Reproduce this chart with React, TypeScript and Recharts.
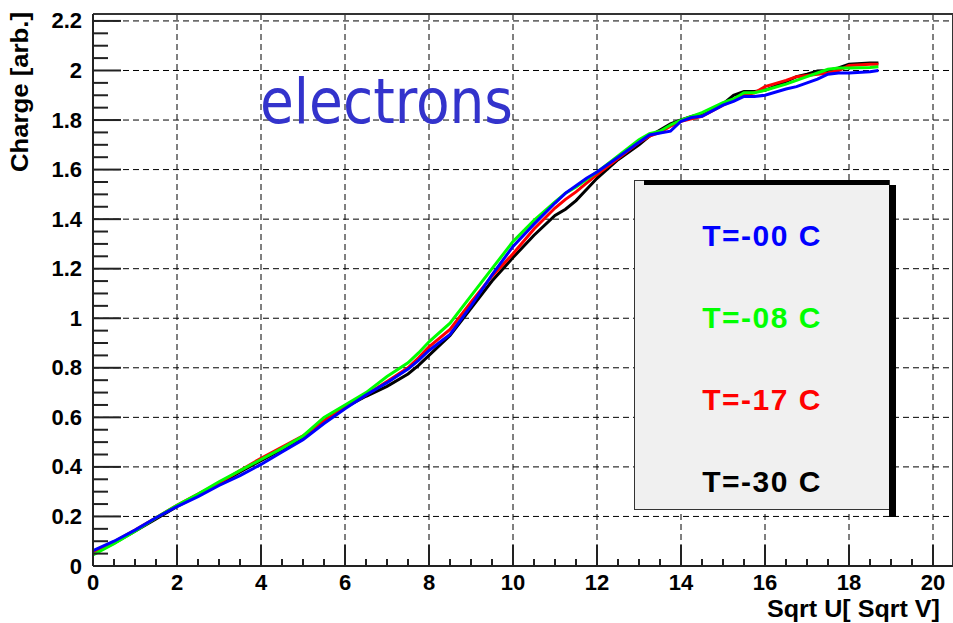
import { CartesianGrid, Legend, Line, LineChart, ReferenceLine, XAxis, YAxis } from 'recharts';

// sqrt of the bias voltage, in sqrt(V)
const sqrtU = [
  0, 0.5, 1, 1.5, 2, 2.5, 3, 3.5, 4, 4.5, 5, 5.5, 6, 6.5, 7, 7.5, 7.75, 8, 8.5, 9, 9.5, 10, 10.5, 11, 11.25, 11.5,
  11.75, 12, 12.5, 13, 13.25, 13.5, 13.75, 14, 14.25, 14.5, 15, 15.25, 15.5, 15.75, 16, 16.5, 16.75, 17, 17.25, 17.5,
  17.75, 18, 18.5, 18.7
];

// collected charge per temperature
const chargeT00 = [
  0.062, 0.1, 0.145, 0.195, 0.24, 0.28, 0.325, 0.365, 0.41, 0.46, 0.51, 0.575, 0.635, 0.69, 0.74, 0.795, 0.83, 0.87,
  0.935, 1.05, 1.175, 1.29, 1.38, 1.465, 1.505, 1.535, 1.565, 1.59, 1.65, 1.71, 1.74, 1.748, 1.755, 1.795, 1.81, 1.815,
  1.86, 1.875, 1.895, 1.895, 1.9, 1.925, 1.935, 1.95, 1.965, 1.985, 1.99, 1.99, 1.995, 2.0
];
const chargeT08 = [
  0.045, 0.09, 0.14, 0.195, 0.245, 0.29, 0.34, 0.385, 0.43, 0.475, 0.525, 0.6, 0.65, 0.7, 0.765, 0.82, 0.86, 0.905,
  0.98, 1.09, 1.2, 1.31, 1.395, 1.47, 1.505, 1.53, 1.56, 1.59, 1.655, 1.72, 1.745, 1.755, 1.78, 1.8, 1.815, 1.83, 1.87,
  1.885, 1.91, 1.91, 1.92, 1.945, 1.96, 1.975, 1.99, 2.005, 2.01, 2.01, 2.012, 2.015
];
const chargeT17 = [
  0.055, 0.098, 0.145, 0.195, 0.245, 0.29, 0.335, 0.385, 0.435, 0.48, 0.525, 0.585, 0.64, 0.69, 0.745, 0.8, 0.84,
  0.885, 0.955, 1.065, 1.17, 1.26, 1.36, 1.445, 1.48, 1.51, 1.545, 1.58, 1.645, 1.71, 1.735, 1.75, 1.775, 1.795, 1.805,
  1.815, 1.86, 1.88, 1.9, 1.91, 1.935, 1.96, 1.975, 1.98, 1.985, 1.99, 2.0, 2.02, 2.025, 2.025
];
const chargeT30 = [
  0.05, 0.092, 0.14, 0.19, 0.24, 0.285, 0.33, 0.38, 0.425, 0.47, 0.52, 0.585, 0.64, 0.685, 0.725, 0.775, 0.81, 0.85,
  0.93, 1.04, 1.15, 1.245, 1.335, 1.415, 1.44, 1.475, 1.52, 1.565, 1.64, 1.7, 1.735, 1.76, 1.785, 1.8, 1.815, 1.825,
  1.865, 1.9, 1.915, 1.915, 1.92, 1.955, 1.975, 1.985, 1.998, 2.0, 2.01, 2.025, 2.03, 2.03
];

const series = [
  { key: 't30', name: 'T=-30 C', color: '#000000', values: chargeT30 },
  { key: 't17', name: 'T=-17 C', color: '#ff0000', values: chargeT17 },
  { key: 't08', name: 'T=-08 C', color: '#00ff00', values: chargeT08 },
  { key: 't00', name: 'T=-00 C', color: '#0000ff', values: chargeT00 }
];

const rows = sqrtU.map((x, i) => {
  const row: Record<string, number> = { x };
  series.forEach((s) => (row[s.key] = s.values[i]));
  return row;
});

const X_MAX = 20.476;
const Y_MAX = 2.228;

const xTicks = Array.from({ length: 41 }, (_, i) => i * 0.5);
const yTicks = Array.from({ length: 45 }, (_, i) => Math.round(i * 5) / 100);
const xMajor = [2, 4, 6, 8, 10, 12, 14, 16, 18, 20];
const yMajor = [0.2, 0.4, 0.6, 0.8, 1, 1.2, 1.4, 1.6, 1.8, 2, 2.2];

const onStep = (v: number, step: number) => Math.abs(v / step - Math.round(v / step)) < 1e-6;
const label = (v: number) => String(Number(v.toFixed(1)));

const font = '"Liberation Sans", Arial, sans-serif';

function XTick({ x, y, payload }: any) {
  const v = payload.value as number;
  const major = onStep(v, 2);
  return (
    <g>
      <line x1={x} x2={x} y1={y} y2={y - (major ? 21 : 7)} stroke="#222" strokeWidth={2} />
      {major && (
        <text x={x} y={y + 24} textAnchor="middle" fontFamily={font} fontWeight="bold" fontSize={22} fill="#000">
          {label(v)}
        </text>
      )}
    </g>
  );
}

function YTick({ x, y, payload }: any) {
  const v = payload.value as number;
  const major = onStep(v, 0.2);
  return (
    <g>
      <line x1={x} x2={x + (major ? 28 : 15)} y1={y} y2={y} stroke="#222" strokeWidth={2} />
      {major && (
        <text x={x - 11} y={y} textAnchor="end" dominantBaseline="central" fontFamily={font} fontWeight="bold" fontSize={22} fill="#000">
          {label(v)}
        </text>
      )}
    </g>
  );
}

function TempLegend({ payload }: any) {
  const items = payload ?? [];
  return (
    <div style={{ position: 'relative', width: 263, height: 338 }}>
      <div style={{ position: 'absolute', left: 0, top: 0, width: 256, height: 330, background: '#f0f0f0', border: '1px solid #333', boxSizing: 'border-box' }} />
      <div style={{ position: 'absolute', left: 10, top: 0, width: 245, height: 5, background: '#000' }} />
      <div style={{ position: 'absolute', left: 255, top: 5, width: 7, height: 332, background: '#000' }} />
      {items.map((item: any, i: number) => (
        <div
          key={item.value}
          style={{
            position: 'absolute',
            left: 0,
            top: 36 + i * 82,
            width: 256,
            height: 40,
            lineHeight: '40px',
            textAlign: 'center',
            fontFamily: font,
            fontWeight: 'bold',
            fontSize: 30,
            letterSpacing: 1.5,
            color: item.color
          }}
        >
          {item.value}
        </div>
      ))}
    </div>
  );
}

export default function App() {
  return (
    <div style={{ position: 'absolute', left: 0, top: 0, width: 953, height: 623, background: '#fff' }}>
      <LineChart width={953} height={623} data={rows} margin={{ top: 14, right: 0, bottom: 0, left: 0 }}>
        <CartesianGrid stroke="#000" strokeDasharray="6 4" horizontalValues={yMajor} verticalValues={xMajor} />
        <XAxis
          dataKey="x"
          type="number"
          domain={[0, X_MAX]}
          ticks={xTicks}
          interval={0}
          height={57}
          tickSize={0}
          tickMargin={0}
          tickLine={false}
          tick={XTick}
          axisLine={{ stroke: '#222', strokeWidth: 2 }}
          allowDataOverflow
        />
        <YAxis
          type="number"
          domain={[0, Y_MAX]}
          ticks={yTicks}
          interval={0}
          width={93}
          tickSize={0}
          tickMargin={0}
          tickLine={false}
          tick={YTick}
          axisLine={{ stroke: '#222', strokeWidth: 2 }}
          allowDataOverflow
        />
        <ReferenceLine y={Y_MAX} stroke="#333" strokeWidth={2} />
        <ReferenceLine x={X_MAX} stroke="#333" strokeWidth={2} />
        {series.map((s) => (
          <Line
            key={s.key}
            dataKey={s.key}
            name={s.name}
            stroke={s.color}
            strokeWidth={3}
            dot={false}
            type="linear"
            isAnimationActive={false}
          />
        ))}
        <Legend
          layout="vertical"
          align="center"
          verticalAlign="middle"
          content={TempLegend}
          wrapperStyle={{ left: 634, top: 180, width: 263, height: 338 }}
        />
        <text x={260} y={123} fontFamily='"DejaVu Sans Condensed", "DejaVu Sans", sans-serif' fontSize={63} textLength={253} lengthAdjust="spacingAndGlyphs" fill="#3333cc">
          electrons
        </text>
        <text
          x={20}
          y={92}
          transform="rotate(-90 20 92)"
          textAnchor="middle"
          dominantBaseline="central"
          fontFamily={font}
          fontWeight="bold"
          fontSize={23}
          textLength={160}
          lengthAdjust="spacingAndGlyphs"
          fill="#000"
        >
          Charge [arb.]
        </text>
        <text x={940} y={617} textAnchor="end" fontFamily={font} fontWeight="bold" fontSize={23} textLength={173} lengthAdjust="spacingAndGlyphs" fill="#000">
          Sqrt U[ Sqrt V]
        </text>
      </LineChart>
    </div>
  );
}
